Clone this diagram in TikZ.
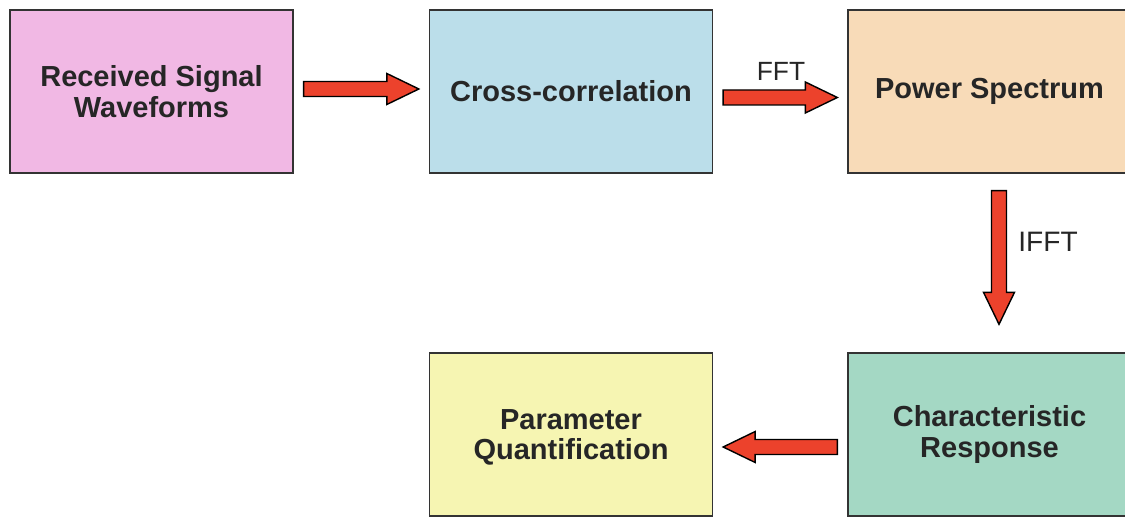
\documentclass[tikz,border=0pt]{standalone}
\usepackage{fontspec}
\setmainfont{Liberation Sans}
\usepackage{tikz}
\usetikzlibrary{arrows.meta, positioning, calc}

\definecolor{pinkbox}{RGB}{241,184,228}
\definecolor{bluebox}{RGB}{187,222,234}
\definecolor{peachbox}{RGB}{248,219,184}
\definecolor{tealbox}{RGB}{164,216,196}
\definecolor{yellowbox}{RGB}{246,245,178}
\definecolor{arrowred}{RGB}{236,66,44}

\begin{document}
\begin{tikzpicture}[
    x=0.02cm, y=-0.02cm,
    blk/.style={draw=black!80, line width=0.8pt, minimum width=5.66cm, minimum height=3.26cm,
        inner sep=0pt, align=center, text=black!85, font=\fontsize{16.5}{17.5}\selectfont\bfseries},
    lbl/.style={font=\fontsize{15}{17}\selectfont, text=black!85, inner sep=0pt},
    blockarrow/.style={draw=black, line width=0.8pt, fill=arrowred, line join=miter,
        to path={let \p1=($(\tikztostart)!0.2cm!(\tikztotarget)$),
                     \p2=($(\tikztotarget)!0.2cm!(\tikztostart)$),
                     \p3=($(\p2)!0.64cm!(\p1)$) in
            ($(\p1)!0.15cm!90:(\p2)$) -- ($(\p3)!0.15cm!-90:(\p1)$) -- ($(\p3)!0.31cm!-90:(\p1)$)
            -- (\p2) -- ($(\p3)!0.31cm!90:(\p1)$) -- ($(\p3)!0.15cm!90:(\p1)$)
            -- ($(\p1)!0.15cm!-90:(\p2)$) -- cycle}},
]
\clip (0,0) rectangle (1125,519);
\fill[white] (0,0) rectangle (1125,519);

\node[blk, fill=pinkbox] (rsw) at (151.5,91.5) {Received Signal\\Waveforms};
\node[blk, fill=bluebox] (xcor) at (571,91.5) {Cross-correlation};
\node[blk, fill=peachbox] (pspec) at (989.5,91.5) {Power Spectrum};
\node[blk, fill=tealbox] (cresp) at (989.5,434.5) {Characteristic\\Response};
\node[blk, fill=yellowbox, text depth=-0.15cm] (pquant) at (571,434.5) {Parameter\\Quantification};

\draw[blockarrow] ([yshift=0.05cm]rsw.east) to ([yshift=0.05cm]xcor.west);
\draw[blockarrow] ([yshift=-0.12cm]xcor.east) to ([yshift=-0.12cm]pspec.west);
\draw[blockarrow] ([xshift=0.19cm, yshift=-0.14cm]pspec.south) to ([xshift=0.19cm, yshift=0.36cm]cresp.north);
\draw[blockarrow] ([yshift=-0.25cm]cresp.west) to ([yshift=-0.25cm]pquant.east);

\node[lbl] (fft) at (781,71) {FFT};
\node[lbl, font=\fontsize{16}{18}\selectfont] (ifft) at (1048,242) {IFFT};
\end{tikzpicture}
\end{document}
